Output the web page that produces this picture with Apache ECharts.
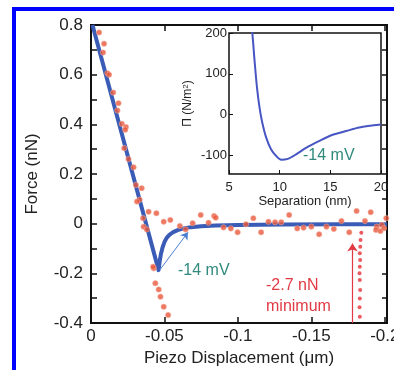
<!DOCTYPE html>
<html>
<head>
<meta charset="utf-8">
<script src="https://cdn.jsdelivr.net/npm/echarts@6/dist/echarts.min.js"></script>
<style>
  html, body { margin: 0; padding: 0; background: #fff; }
  #main { width: 394px; height: 370px; }
</style>
</head>
<body>
<div id="main"></div>
<script>
// main plot: force vs piezo displacement
var xTickLabels = [0, -0.05, -0.1, -0.15, -0.2];
var yTickLabels = [0.8, 0.6, 0.4, 0.2, 0, -0.2, -0.4];
var yTicks = [0.8, 0.7, 0.6, 0.5, 0.4, 0.3, 0.2, 0.1, 0, -0.1, -0.2, -0.3, -0.4];

// measured points (red dots)
var redApproach = [
  [-0.0055, 0.770], [-0.0089, 0.725], [-0.0082, 0.689], [-0.0112, 0.606], [-0.0123, 0.600],
  [-0.0151, 0.528], [-0.0187, 0.485], [-0.0180, 0.456], [-0.0210, 0.402], [-0.0238, 0.389],
  [-0.0233, 0.378], [-0.0226, 0.304], [-0.0255, 0.260], [-0.0290, 0.227], [-0.0306, 0.156],
  [-0.0345, 0.143], [-0.0331, 0.096], [-0.0313, 0.089], [-0.0354, 0.022], [-0.0358, -0.012],
  [-0.0380, -0.023], [-0.0427, -0.180]
];
var redJump = [
  [-0.0423, -0.173], [-0.0438, -0.240], [-0.0461, -0.265], [-0.0473, -0.294],
  [-0.0495, -0.335], [-0.0525, -0.368]
];
var redFlat = [
  [-0.0392, 0.048], [-0.0445, 0.042], [-0.0495, 0.008], [-0.0540, 0.015], [-0.0605, -0.009],
  [-0.0644, -0.023], [-0.0692, 0.002], [-0.0747, 0.035], [-0.0800, 0.004], [-0.0838, 0.031],
  [-0.0849, 0.024], [-0.0902, -0.015], [-0.0952, -0.019], [-0.0998, -0.035], [-0.1055, -0.002],
  [-0.1105, 0.022], [-0.1158, -0.035], [-0.1208, 0.008], [-0.1253, 0.006], [-0.1295, 0.006],
  [-0.1349, 0.035], [-0.1404, -0.019], [-0.1447, -0.016], [-0.1500, -0.012], [-0.1553, -0.043],
  [-0.1603, -0.012], [-0.1653, -0.021], [-0.1705, 0.011], [-0.1758, -0.035], [-0.1808, 0.051],
  [-0.1865, 0.011], [-0.1904, 0.046], [-0.1945, -0.012], [-0.1980, -0.005], [-0.2010, 0.022],
  [-0.1940, -0.025], [-0.1970, -0.030], [-0.1995, -0.018]
];
var redColumn = [
  [-0.1840, -0.037], [-0.1835, -0.066], [-0.1833, -0.093], [-0.1830, -0.119], [-0.1832, -0.146],
  [-0.1830, -0.173], [-0.1828, -0.200], [-0.1830, -0.227], [-0.1832, -0.267], [-0.1830, -0.301],
  [-0.1828, -0.337], [-0.1830, -0.375]
];

// fit line (blue)
var blueFit = [
  [-0.001, 0.800], [-0.046, -0.187], [-0.0468, -0.150], [-0.0476, -0.122], [-0.0487, -0.096],
  [-0.0500, -0.074], [-0.0515, -0.057], [-0.0535, -0.044], [-0.0560, -0.034], [-0.0590, -0.026],
  [-0.0630, -0.019], [-0.0680, -0.014], [-0.0750, -0.010], [-0.0850, -0.007], [-0.1000, -0.005],
  [-0.1300, -0.003], [-0.1700, -0.002], [-0.2015, -0.002]
];

// arrows
var blueArrow = [[-0.047, -0.185], [-0.066, -0.035]];
var redArrow = [[-0.178, -0.4], [-0.178, -0.08]];

// inset: disjoining pressure vs separation
var insetXTicks = [5, 10, 15, 20];
var insetYTicks = [200, 100, 0, -100];
var insetCurve = [
  [7.19, 215], [7.29, 203], [7.52, 133], [7.76, 67], [8.01, 18], [8.28, -19], [8.67, -56],
  [9.16, -85], [9.66, -101], [10.15, -110], [10.8, -108], [11.62, -97], [12.6, -81],
  [13.92, -64], [15.24, -49], [16.55, -40], [17.86, -31], [20, -24]
];

var dom = document.getElementById("main");
var myChart = echarts.init(dom);
var font = 'Liberation Sans';
var teal = '#2f8a7c';
var red = '#e23a44';
var dotColor = '#e8573c';

function dotSeries(data) {
  return {
    type: 'scatter',
    xAxisIndex: 0,
    yAxisIndex: 0,
    data: data,
    symbolSize: 5.5,
    itemStyle: { color: dotColor, borderColor: '#f7b8a8', borderWidth: 0.6 },
    z: 5
  };
}

var noLine = { show: false, onZero: false };

var option = {
  animation: false,
  grid: [
    { left: 91, top: 25, width: 296, height: 298, outerBoundsMode: 'none', containLabel: false,
      show: true, borderColor: '#111', borderWidth: 2, backgroundColor: 'transparent' },
    { left: 229, top: 33, width: 152, height: 141, outerBoundsMode: 'none', containLabel: false,
      show: true, borderColor: '#111', borderWidth: 1.5, backgroundColor: '#fff', z: 10 }
  ],
  xAxis: [
    {
      gridIndex: 0, type: 'value', min: -0.2015, max: 0, inverse: true,
      splitLine: { show: false }, axisLine: noLine,
      axisTick: { inside: true, length: 6, customValues: xTickLabels, lineStyle: { color: '#111', width: 1.5 } },
      axisLabel: { customValues: xTickLabels, margin: 5, fontSize: 17, color: '#222', fontFamily: font },
      name: 'Piezo Displacement (μm)', nameLocation: 'middle', nameGap: 24,
      nameTextStyle: { fontSize: 17, color: '#222', fontFamily: font }
    },
    {
      gridIndex: 0, type: 'value', position: 'top', min: -0.2015, max: 0, inverse: true,
      splitLine: { show: false }, axisLine: noLine, axisLabel: { show: false },
      axisTick: { inside: true, length: 6, customValues: xTickLabels, lineStyle: { color: '#111', width: 1.5 } }
    },
    {
      gridIndex: 1, type: 'value', min: 5, max: 20, interval: 5, z: 10,
      splitLine: { show: false }, axisLine: noLine,
      axisTick: { inside: true, length: 4, lineStyle: { color: '#111' } },
      axisLabel: { margin: 7, fontSize: 13, color: '#222', fontFamily: font },
      name: 'Separation (nm)', nameLocation: 'middle', nameGap: 21,
      nameTextStyle: { fontSize: 13, color: '#222', fontFamily: font }
    }
  ],
  yAxis: [
    {
      gridIndex: 0, type: 'value', min: -0.4, max: 0.8,
      splitLine: { show: false }, axisLine: noLine,
      axisTick: { inside: true, length: 6, customValues: yTicks, lineStyle: { color: '#111', width: 1.5 } },
      axisLabel: { customValues: yTickLabels, margin: 8, fontSize: 17, color: '#222', fontFamily: font },
      name: 'Force (nN)', nameLocation: 'middle', nameGap: 50,
      nameTextStyle: { fontSize: 17, color: '#222', fontFamily: font }
    },
    {
      gridIndex: 0, type: 'value', position: 'right', min: -0.4, max: 0.8,
      splitLine: { show: false }, axisLine: noLine, axisLabel: { show: false },
      axisTick: { inside: true, length: 5, customValues: yTicks, lineStyle: { color: '#111', width: 1.5 } }
    },
    {
      gridIndex: 1, type: 'value', min: -145, max: 200, z: 10,
      splitLine: { show: false }, axisLine: noLine,
      axisTick: { inside: true, length: 4, customValues: insetYTicks, lineStyle: { color: '#111' } },
      axisLabel: { customValues: insetYTicks, margin: 2, fontSize: 13, color: '#222', fontFamily: font },
      name: 'Π (N/m{s|2})', nameLocation: 'middle', nameGap: 35,
      nameTextStyle: { fontSize: 12, color: '#222', fontFamily: font, rich: { s: { fontSize: 8, verticalAlign: 'top', color: '#222' } } }
    }
  ],
  series: [
    {
      type: 'line', xAxisIndex: 0, yAxisIndex: 0, data: blueFit, smooth: false,
      symbol: 'none', lineStyle: { color: '#3a5cb6', width: 4, join: 'round' }, z: 3,
      markLine: {
        silent: true, symbol: ['none', 'arrow'], symbolSize: 7,
        label: { show: false },
        lineStyle: { color: '#4a7fd0', width: 1, type: 'solid' },
        data: [[{ coord: blueArrow[0] }, { coord: blueArrow[1] }]]
      }
    },
    dotSeries(redApproach),
    dotSeries(redJump),
    dotSeries(redFlat),
    {
      type: 'scatter', xAxisIndex: 0, yAxisIndex: 0, data: redColumn, symbolSize: 4,
      itemStyle: { color: '#e8303a' }, z: 5,
      markLine: {
        silent: true, symbol: ['none', 'arrow'], symbolSize: 8,
        label: { show: false },
        lineStyle: { color: red, width: 1.2, type: 'solid' },
        data: [[{ coord: redArrow[0] }, { coord: redArrow[1] }]]
      }
    },
    {
      type: 'line', xAxisIndex: 2, yAxisIndex: 2, data: insetCurve, smooth: 0.3,
      symbol: 'none', lineStyle: { color: '#4756c2', width: 2 }, z: 12
    }
  ],
  graphic: [
    { type: 'rect', shape: { x: 12, y: 7, width: 382, height: 4 }, style: { fill: '#0000ff' }, z: 100 },
    { type: 'rect', shape: { x: 12, y: 7, width: 4, height: 363 }, style: { fill: '#0000ff' }, z: 100 },
    { type: 'text', left: 178, top: 263, style: { text: '-14 mV', fill: teal, font: '16px ' + font }, z: 100 },
    { type: 'text', left: 303, top: 148, style: { text: '-14 mV', fill: teal, font: '16px ' + font }, z: 100 },
    { type: 'text', left: 266, top: 278, style: { text: '-2.7 nN', fill: red, font: '16px ' + font }, z: 100 },
    { type: 'text', left: 266, top: 299, style: { text: 'minimum', fill: red, font: '16px ' + font }, z: 100 }
  ]
};

if (option && typeof option === "object") {
  myChart.setOption(option, true);
}
</script>
</body>
</html>
